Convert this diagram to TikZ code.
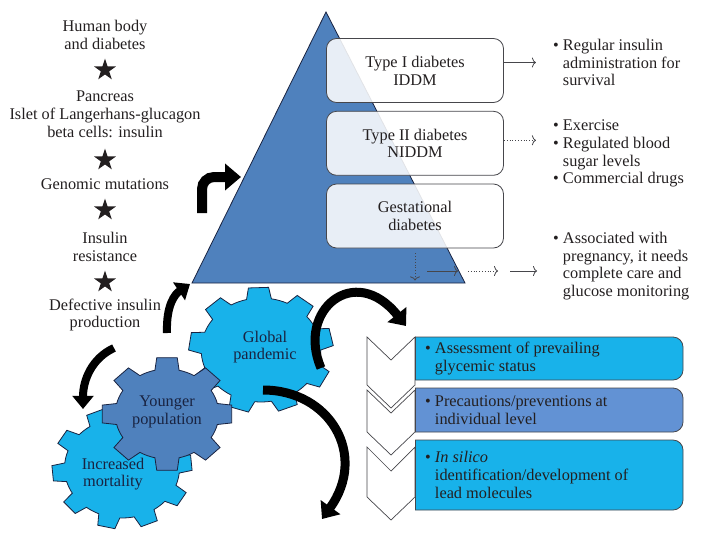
\documentclass[tikz,border=0pt]{standalone}
\usepackage{fontspec}
\setmainfont{Liberation Serif}
\usetikzlibrary{arrows.meta,shapes.geometric,calc}

\definecolor{pyrblue}{RGB}{79,129,189}
\definecolor{gearcyan}{RGB}{24,178,234}
\definecolor{midblue}{RGB}{98,146,212}
\definecolor{inkdark}{RGB}{35,31,32}
\definecolor{navy}{RGB}{25,35,65}
\definecolor{edgegray}{RGB}{70,70,75}

\newcommand{\bl}{\textbullet\ }
\newcommand{\ind}{\phantom{\textbullet\ }}
% gear: centre, teeth, inner radius, outer radius, rotation, style
\newcommand{\drawgear}[6]{%
  \filldraw[#6, shift={(#1)}, xscale=1.15, rotate=#5] ({-0.3*360/#2}:#3)
    \foreach \k in {1,...,#2}{
      -- ({360/#2*(\k-1.3)}:#3) -- ({360/#2*(\k-1.2)}:#4)
      -- ({360/#2*(\k-0.8)}:#4) -- ({360/#2*(\k-0.7)}:#3)
      arc[start angle={360/#2*(\k-0.7)}, end angle={360/#2*(\k-0.3)}, radius=#3]
    } -- cycle;}

\tikzset{
  txt/.style={font=\fontsize{16.3}{17.8}\selectfont, text=inkdark, align=center, inner sep=0pt},
  bullets/.style={txt, align=left, anchor=west},
  starmark/.style={star, star points=5, star point ratio=2.6, fill=inkdark, minimum size=23pt, inner sep=0pt},
  typebox/.style={txt, draw=edgegray, line width=0.8pt, rounded corners=10pt, fill=white,
    fill opacity=0.87, text opacity=1, minimum width=177pt, minimum height=64pt},
  pointer/.style={draw=edgegray, line width=0.8pt, -{To[length=4pt,width=10pt]}},
  geartext/.style={txt, text=navy},
  blackarc/.style={draw=black, line width=#1, -{Triangle[length=1.4*#1+2pt, width=2.6*#1]}},
  chevron/.style={fill=white, draw=edgegray, line width=0.7pt},
  stepbox/.style={draw=edgegray, line width=0.8pt, rounded corners=10pt}
}

\begin{document}
\begin{tikzpicture}[x=1pt, y=-1pt]
  \useasboundingbox (0,0) rectangle (703,536);

  % Left column
  \node[txt] (body) at (105,35) {Human body\\and diabetes};
  \node[starmark] (st1) at (105,70) {};
  \node[txt] (pancreas) at (105,114) {Pancreas\\Islet of Langerhans-glucagon\\beta cells: insulin};
  \node[starmark] (st2) at (105,160) {};
  \node[txt] (genomic) at (105,184) {Genomic mutations};
  \node[starmark] (st3) at (105,210) {};
  \node[txt] (resist) at (105,247) {Insulin\\resistance};
  \node[starmark] (st4) at (105,282) {};
  \node[txt] (defect) at (105,315) {Defective insulin\\production};

  % Pyramid
  \filldraw[fill=pyrblue, draw=navy, line width=0.8pt] (326,12) -- (465,283) -- (192,283) -- cycle;
  \node[typebox] (type1) at (415,70.5) {Type I diabetes\\IDDM};
  \node[typebox] (type2) at (415,143.3) {Type II diabetes\\NIDDM};
  \node[typebox] (gest) at (415,216) {Gestational\\diabetes};

  % Management notes
  \node[bullets] (care1) at (553,62.5) {\bl Regular insulin\\\ind administration for\\\ind survival};
  \node[bullets] (care2) at (553,153.5) {\bl Exercise\\\bl Regulated blood\\\ind sugar levels\\\bl Commercial drugs};
  \node[bullets] (care3) at (553,266) {\bl Associated with\\\ind pregnancy, it needs\\\ind complete care and\\\ind glucose monitoring};

  \draw[pointer] (type1.east |- care1.west) -- ++(32,0);
  \draw[pointer, dotted] ($(type2.east)+(0,-3)$) -- ++(32,0);
  \coordinate (g1) at ($(gest.south)+(0,5)$);
  \draw[pointer, dotted] (g1) -- ++(0,27);
  \coordinate (g2) at (427,271);
  \draw[pointer] (g2) -- ++(31,0);
  \draw[pointer, dotted] ($(g2)+(41,0)$) -- ++(30,0);
  \draw[pointer] ($(g2)+(83,0)$) -- ++(27,0);

  % Gears
  \drawgear{261,350}{9}{52}{63}{12}{fill=gearcyan, draw=navy, line width=0.8pt}
  \drawgear{122,468}{10}{50}{61}{5}{fill=gearcyan, draw=navy, line width=0.8pt}
  \drawgear{167,414}{8}{45}{57}{0}{fill=pyrblue, draw=navy, line width=0.8pt}
  \node[geartext] (pandemic) at (265,347) {Global\\pandemic};
  \node[geartext] (younger) at (167,412) {Younger\\population};
  \node[geartext] (mortal) at (113,474) {Increased\\mortality};

  % Black arrows
  \coordinate (a1) at (202,213);
  \coordinate (a1tip) at (241,177);
  \draw[blackarc=10pt, rounded corners=12pt] (a1) |- (a1tip);
  \coordinate (a2) at (167,333);
  \coordinate (a2tip) at (190,284);
  \draw[blackarc=8pt] (a2) .. controls (166,305) and (175,294) .. (a2tip);
  \coordinate (a3) at (114,348);
  \coordinate (a3tip) at (83,409);
  \draw[blackarc=8pt] (a3) .. controls (92,358) and (83,380) .. (a3tip);
  \coordinate (a4) at (321,368);
  \coordinate (a4tip) at (406,326);
  \draw[blackarc=9pt] (a4) .. controls (296,310) and (355,262) .. (a4tip);
  \coordinate (a5) at (263,390);
  \coordinate (a5tip) at (322,519);
  \draw[blackarc=9pt] (a5) .. controls (330,390) and (368,455) .. (a5tip);

  % Chevrons
  \draw[chevron] (367,337) -- (391,360) -- (415,337) -- (415,385) -- (391,408) -- (367,385) -- cycle;
  \draw[chevron] (367,390) -- (391,413) -- (415,390) -- (415,432) -- (391,455) -- (367,432) -- cycle;
  \draw[chevron] (367,447) -- (391,471) -- (415,447) -- (415,497) -- (391,520) -- (367,497) -- cycle;

  % Action boxes
  \filldraw[stepbox, fill=gearcyan] (415,337) -- (683,337) -- (683,380) -- (415,380);
  \filldraw[stepbox, fill=midblue] (415,388) -- (683,388) -- (683,432) -- (415,432);
  \filldraw[stepbox, fill=gearcyan] (415,440) -- (683,440) -- (683,510) -- (415,510);
  \draw[draw=edgegray, line width=0.8pt] (415,337) -- (415,380) (415,388) -- (415,432) (415,440) -- (415,510);
  \node[bullets] (assess) at (425,358.5) {\bl Assessment of prevailing\\\ind glycemic status};
  \node[bullets] (prevent) at (425,410) {\bl Precautions/preventions at\\\ind individual level};
  \node[bullets] (silico) at (425,475) {\bl \textit{In silico}\\\ind identification/development of\\\ind lead molecules};
\end{tikzpicture}
\end{document}
